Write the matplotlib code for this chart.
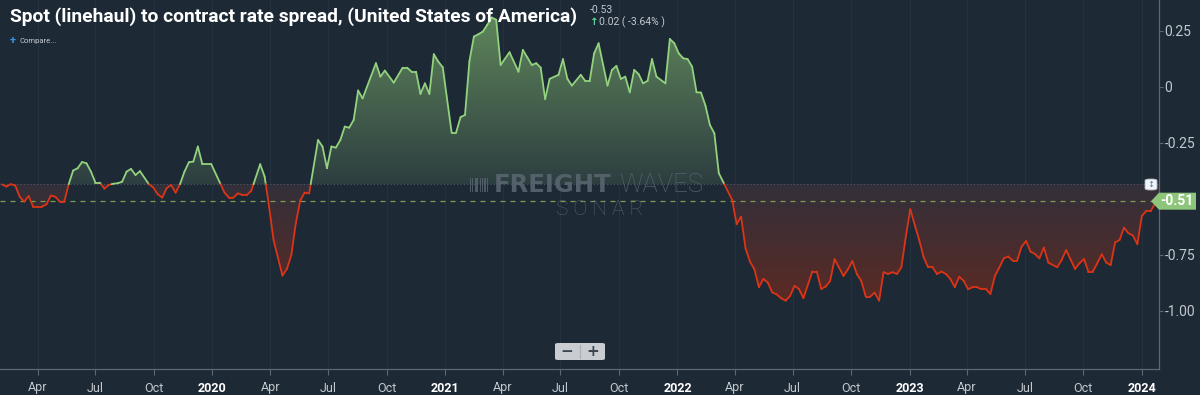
import numpy as np
import pandas as pd
import matplotlib
matplotlib.use("Agg")
import matplotlib.pyplot as plt
import matplotlib.dates as mdates
from matplotlib.patches import FancyBboxPatch, Polygon, PathPatch, Rectangle
from matplotlib.path import Path
from matplotlib.collections import LineCollection
from matplotlib.colors import to_rgb

# ---------------- data (weekly readings, week offset from start_date) ----------------
start_date = "2019-02-04"
week = [0, 1, 2, 3, 4, 5, 6, 7, 9, 10, 11, 12, 13, 14, 15, 16, 17, 18, 19, 20,
        21, 22, 23, 24, 25, 26, 27, 28, 29, 30, 31, 33, 34, 35, 36, 37, 38, 39, 40, 41,
        42, 43, 44, 45, 47, 50, 51, 52, 53, 54, 55, 56, 58, 59, 60, 61, 63, 64, 65, 66,
        67, 68, 69, 71, 72, 73, 74, 75, 76, 77, 78, 79, 80, 81, 84, 85, 86, 88, 90, 91,
        92, 93, 94, 95, 96, 97, 98, 99, 101, 102, 103, 104, 105, 106, 107, 108, 109, 110, 111, 112,
        114, 116, 117, 118, 119, 120, 121, 122, 123, 125, 126, 127, 128, 130, 131, 132, 133, 134, 136, 137,
        138, 139, 140, 141, 142, 143, 144, 145, 146, 147, 149, 150, 151, 152, 153, 154, 155, 156, 157, 158,
        159, 160, 161, 164, 165, 166, 167, 168, 169, 170, 171, 172, 173, 174, 175, 176, 177, 178, 179, 180,
        182, 183, 184, 185, 186, 187, 188, 189, 190, 191, 192, 193, 194, 195, 196, 197, 198, 199, 200, 201,
        202, 203, 204, 205, 206, 207, 208, 209, 210, 211, 212, 213, 214, 215, 216, 217, 218, 219, 220, 221,
        222, 223, 224, 225, 226, 227, 228, 229, 230, 231, 232, 233, 234, 235, 237, 238, 239, 240, 241, 242,
        243, 244, 245, 246, 247, 248, 249, 250, 251, 252, 253, 254, 255, 256, 257, 258, 259, 260]
spread = [-0.435, -0.445, -0.434, -0.44, -0.49, -0.512, -0.487, -0.534, -0.534, -0.524,
          -0.485, -0.49, -0.512, -0.512, -0.434, -0.373, -0.363, -0.335, -0.341, -0.378,
          -0.427, -0.427, -0.454, -0.4375, -0.432, -0.43, -0.423, -0.378, -0.366, -0.393,
          -0.376, -0.434, -0.449, -0.479, -0.494, -0.452, -0.4375, -0.472, -0.434, -0.378,
          -0.336, -0.333, -0.266, -0.344, -0.344, -0.472, -0.494, -0.494, -0.475, -0.482,
          -0.482, -0.464, -0.345, -0.40, -0.534, -0.683, -0.842, -0.8125, -0.75, -0.609,
          -0.507, -0.472, -0.475, -0.237, -0.266, -0.363, -0.266, -0.271, -0.237, -0.177,
          -0.182, -0.147, -0.016, -0.051, 0.106, 0.046, 0.073, 0.019, 0.086, 0.086,
          0.068, 0.068, -0.031, 0.016, -0.031, 0.146, 0.113, 0.088, -0.204, -0.204,
          -0.135, -0.125, 0.116, 0.225, 0.235, 0.247, 0.277, 0.31, 0.30, 0.098,
          0.155, 0.068, 0.165, 0.132, 0.098, 0.106, 0.086, -0.054, 0.036, 0.054,
          0.124, 0.036, 0.006, 0.054, 0.027, 0.027, 0.150, 0.195, 0.006, 0.076,
          0.094, 0.036, 0.046, -0.024, 0.076, 0.057, 0.016, 0.027, 0.124, 0.046,
          0.016, 0.214, 0.195, 0.150, 0.128, 0.124, 0.091, -0.024, -0.025, -0.083,
          -0.170, -0.207, -0.385, -0.504, -0.613, -0.579, -0.720, -0.780, -0.814, -0.894,
          -0.857, -0.873, -0.917, -0.926, -0.943, -0.954, -0.933, -0.888, -0.902, -0.943,
          -0.824, -0.824, -0.902, -0.891, -0.866, -0.769, -0.806, -0.844, -0.814, -0.777,
          -0.835, -0.866, -0.936, -0.936, -0.918, -0.954, -0.827, -0.835, -0.827, -0.835,
          -0.805, -0.668, -0.546, -0.616, -0.683, -0.760, -0.805, -0.805, -0.835, -0.824,
          -0.835, -0.857, -0.894, -0.847, -0.866, -0.903, -0.894, -0.894, -0.903, -0.903,
          -0.924, -0.844, -0.806, -0.765, -0.757, -0.775, -0.775, -0.713, -0.688, -0.735,
          -0.746, -0.765, -0.717, -0.784, -0.805, -0.772, -0.728, -0.770, -0.8125, -0.787,
          -0.768, -0.824, -0.824, -0.787, -0.747, -0.784, -0.795, -0.694, -0.683, -0.628,
          -0.653, -0.663, -0.702, -0.576, -0.554, -0.554, -0.519, -0.51]
baseline = -0.434
last_value = -0.51
title = "Spot (linehaul) to contract rate spread, (United States of America)"
prev_value_text = "-0.53"
change_text = "0.02 ( -3.64% )"
y_ticks = [0.25, 0.0, -0.25, -0.75, -1.00]
y_tick_labels = ["0.25", "0", "-0.25", "-0.75", "-1.00"]
x_ticks = ["2019-04-01", "2019-07-01", "2019-10-01", "2020-01-01", "2020-04-01", "2020-07-01",
           "2020-10-01", "2021-01-01", "2021-04-01", "2021-07-01", "2021-10-01", "2022-01-01",
           "2022-04-01", "2022-07-01", "2022-10-01", "2023-01-01", "2023-04-01", "2023-07-01",
           "2023-10-01", "2024-01-01"]
x_tick_labels = ["Apr", "Jul", "Oct", "2020", "Apr", "Jul", "Oct", "2021", "Apr", "Jul", "Oct",
                 "2022", "Apr", "Jul", "Oct", "2023", "Apr", "Jul", "Oct", "2024"]

# ---------------- styling ----------------
BG = "#1d2935"
GREEN_LINE = "#93d27f"
RED_LINE = "#dc3416"
AXIS_C = "#5d6873"
TICK_C = "#c3c8ce"
FONT = ["Roboto", "DejaVu Sans"]

dates = pd.Timestamp(start_date) + pd.to_timedelta(np.array(week) * 7, unit="D")
x = mdates.date2num(dates)
y = np.array(spread, dtype=float)

fig = plt.figure(figsize=(12, 3.95), dpi=100, facecolor=BG)
ax = fig.add_axes([0, 1 - 369 / 395, 1159 / 1200, 369 / 395])
ax.set_facecolor(BG)

xlim = (mdates.date2num(pd.Timestamp("2019-02-01")), mdates.date2num(pd.Timestamp("2024-01-28")))
ylim = (-1.259, 0.388)

# faint vertical grid
for d in x_ticks:
    ax.axvline(mdates.date2num(pd.Timestamp(d)), color="#243240", lw=0.8, zorder=0)


def grad_fill(above, c_far, c_near, far_val):
    if above:
        coll = ax.fill_between(x, y, baseline, where=y >= baseline, interpolate=True,
                               facecolor="none", edgecolor="none")
    else:
        coll = ax.fill_between(x, y, baseline, where=y <= baseline, interpolate=True,
                               facecolor="none", edgecolor="none")
    paths = coll.get_paths()
    if not paths:
        return
    cp = Path.make_compound_path(*paths)
    patch = PathPatch(cp, transform=ax.transData, facecolor="none", edgecolor="none")
    ax.add_patch(patch)
    n = 256
    t = np.linspace(0, 1, n)[:, None]  # 0 at baseline, 1 at far end
    cn = np.array(to_rgb(c_near)); cf = np.array(to_rgb(c_far))
    img = cn[None, None, :] * (1 - t[..., None]) + cf[None, None, :] * t[..., None]
    img = np.repeat(img, 2, axis=1)
    ext = [xlim[0], xlim[1], baseline, far_val]
    im = ax.imshow(img, extent=ext, origin="lower", aspect="auto", zorder=1, interpolation="bilinear")
    im.set_clip_path(patch)


grad_fill(True, "#5f865b", "#2d3e40", 0.32)
grad_fill(False, "#5b2a24", "#33303a", -0.96)

# baseline dotted + last value dashed
ax.axhline(baseline, color="#4f5a64", ls=(0, (1, 2)), lw=0.8, zorder=2)
ax.axhline(last_value, color="#7f9a52", ls=(0, (4, 4)), lw=0.9, zorder=2)

# two-colour line, split at baseline crossings
xs = [x[0]]; ys = [y[0]]
for i in range(1, len(x)):
    if (y[i - 1] - baseline) * (y[i] - baseline) < 0:
        t = (baseline - y[i - 1]) / (y[i] - y[i - 1])
        xs.append(x[i - 1] + t * (x[i] - x[i - 1])); ys.append(baseline)
    xs.append(x[i]); ys.append(y[i])
xs = np.array(xs); ys = np.array(ys)
segs = np.stack([np.column_stack([xs[:-1], ys[:-1]]), np.column_stack([xs[1:], ys[1:]])], axis=1)
mid = (ys[:-1] + ys[1:]) / 2
cols = [GREEN_LINE if m >= baseline else RED_LINE for m in mid]
lc = LineCollection(segs, colors=cols, linewidths=1.3, zorder=3, capstyle="round", joinstyle="round")
ax.add_collection(lc)

ax.set_xlim(*xlim)
ax.set_ylim(*ylim)

# axes styling
for s in ["top", "left"]:
    ax.spines[s].set_visible(False)
ax.spines["right"].set_color(AXIS_C)
ax.spines["bottom"].set_color(AXIS_C)
ax.spines["right"].set_linewidth(0.9)
ax.spines["bottom"].set_linewidth(0.9)
ax.yaxis.tick_right()
ax.set_yticks(y_ticks)
ax.set_yticklabels(y_tick_labels)
ax.tick_params(axis="y", colors=AXIS_C, labelcolor=TICK_C, length=3, width=0.8, pad=1, labelsize=10)
ax.set_xticks([mdates.date2num(pd.Timestamp(d)) for d in x_ticks])
ax.set_xticklabels(x_tick_labels)
ax.tick_params(axis="x", colors=AXIS_C, labelcolor=TICK_C, length=4, width=0.8, pad=5, labelsize=9)
for lab in ax.get_xticklabels() + ax.get_yticklabels():
    lab.set_fontfamily(FONT)
for lab in ax.get_xticklabels():
    if lab.get_text().isdigit():
        lab.set_fontweight("bold")
        lab.set_color("white")

# ---------------- header texts ----------------
fig.text(10 / 1200, 1 - 17 / 395, title, fontsize=13.9, fontweight="bold", color="white",
         va="center", ha="left", family=FONT)
fig.text(590 / 1200, 1 - 10 / 395, prev_value_text, fontsize=7.5, color="#c3c8ce",
         va="center", ha="left", family=FONT)
fig.text(590 / 1200, 1 - 22 / 395, "\u2191", fontsize=7.5, color="#5fd39a", fontweight="bold",
         va="center", ha="left", family=["DejaVu Sans"])
fig.text(599 / 1200, 1 - 22 / 395, change_text, fontsize=7.5, color="#c3c8ce",
         va="center", ha="left", family=FONT)
fig.text(10 / 1200, 1 - 41 / 395, "+", fontsize=8, color="#3d8fe0", va="center", ha="left",
         family=FONT, fontweight="bold")
fig.text(20 / 1200, 1 - 41 / 395, "Compare...", fontsize=5.5, color="#c3c8ce", va="center",
         ha="left", family=FONT)

# ---------------- watermark ----------------
wm_c = "#5a656f"
fig.text(494 / 1200, 1 - 185 / 395, "FREIGHT", fontsize=17.5, fontweight="bold", color=wm_c,
         va="center", ha="left", family=["DejaVu Sans"], alpha=0.9)
fig.text(619 / 1200, 1 - 185 / 395, "WAVES", fontsize=18.5, fontweight="light", color=wm_c,
         va="center", ha="left", family=["Roboto", "DejaVu Sans"], alpha=0.9)
fig.text(600 / 1200, 1 - 210 / 395, "S O N A R", fontsize=15, fontweight="light", color=wm_c,
         va="center", ha="center", family=["Roboto", "DejaVu Sans"], alpha=0.85)
for i, w in enumerate([1.5, 1, 2, 1, 1.5, 1, 2, 1]):
    fig.patches.append(Rectangle(((470 + i * 2.4) / 1200, 1 - 192 / 395), w / 1200, 14 / 395,
                                 transform=fig.transFigure, facecolor=wm_c, edgecolor="none", alpha=0.8))

# ---------------- last value tag ----------------
tag_c = "#8dc57a"
yv = ax.transData.transform((0, last_value))[1]
yv = yv / fig.bbox.height
h = 17 / 395
fig.patches.append(Polygon([(1151 / 1200, yv), (1159 / 1200, yv + h / 2), (1196 / 1200, yv + h / 2),
                            (1196 / 1200, yv - h / 2), (1159 / 1200, yv - h / 2)], closed=True,
                           transform=fig.transFigure, facecolor=tag_c, edgecolor="none"))
fig.text(1177 / 1200, yv, "-0.51", fontsize=10, color="white", fontweight="bold", va="center",
         ha="center", family=FONT)

# small toggle button
fig.patches.append(FancyBboxPatch((1145 / 1200, 1 - 190 / 395), 12 / 1200, 11 / 395,
                                  boxstyle="round,pad=0,rounding_size=0.004", transform=fig.transFigure,
                                  facecolor="#f2f4f6", edgecolor="#aab2ba", lw=0.6))
fig.text(1151 / 1200, 1 - 184.5 / 395, "\u2195", fontsize=6, color="#3d7fd0", va="center", ha="center",
         family=["DejaVu Sans"])

# zoom controls
fig.patches.append(FancyBboxPatch((555 / 1200, 1 - 360 / 395), 50 / 1200, 17 / 395,
                                  boxstyle="round,pad=0,rounding_size=0.003", transform=fig.transFigure,
                                  facecolor="#c9cdd2", edgecolor="none"))
fig.lines.append(plt.Line2D([580 / 1200, 580 / 1200], [1 - 358 / 395, 1 - 345 / 395],
                            transform=fig.transFigure, color="#a9afb5", lw=0.8))
fig.text(567 / 1200, 1 - 352 / 395, "\u2212", fontsize=11, color="#3a4550", fontweight="bold",
         va="center", ha="center", family=["DejaVu Sans"])
fig.text(593 / 1200, 1 - 352 / 395, "+", fontsize=11, color="#3a4550", fontweight="bold",
         va="center", ha="center", family=["DejaVu Sans"])

fig.savefig("out.png", dpi=100, facecolor=BG)
